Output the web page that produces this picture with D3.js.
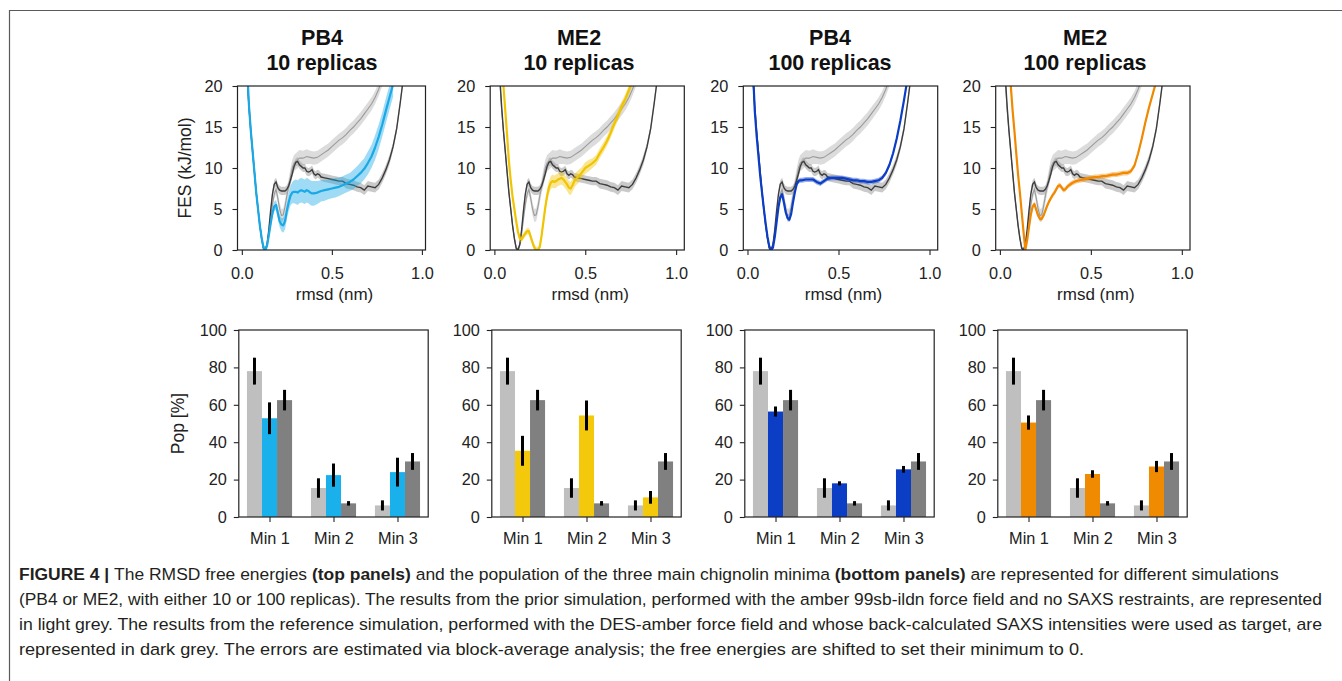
<!DOCTYPE html>
<html>
<head>
<meta charset="utf-8">
<script src="https://cdn.jsdelivr.net/npm/d3@7"></script>
<style>
  body { margin: 0; background: #fff; }
  svg { display: block; }
  text { font-family: "Liberation Sans", Arial, Helvetica, sans-serif; }
</style>
</head>
<body>
<svg id="fig" width="1342" height="681"></svg>
<script>
// ---------- panel titles ----------
const simNames = ["PB4", "ME2", "PB4", "ME2"];
const replicaLabels = ["10 replicas", "10 replicas", "100 replicas", "100 replicas"];

// ---------- free-energy profiles: rmsd (nm), FES (kJ/mol), half-width of error band ----------
// prior simulation (amber 99sb-ildn, no SAXS)
const priorX = [0.02,0.03,0.04,0.05,0.06,0.07,0.08,0.09,0.10,0.11,0.12,0.13,0.14,0.15,0.16,0.17,0.18,0.19,0.20,0.21,0.22,0.23,0.24,0.25,0.26,0.27,0.28,0.29,0.30,
  0.32,0.34,0.36,0.38,0.40,0.42,0.44,0.46,0.48,0.50,0.52,0.54,0.56,0.58,0.60,0.62,0.64,0.66,0.68,0.70,0.72,0.74,0.76,0.78,0.80];
const priorFes = [26,20.5,17,14.5,12,9.5,7,5,3,1.5,0.3,0,0.6,2,3.8,5.5,6.8,7.4,6.3,5.0,4.2,4.3,5.3,6.6,7.8,8.9,10.0,10.6,10.8,
  11.2,11.2,11.4,11.3,11.2,11.3,11.6,11.9,12.2,12.6,13.0,13.4,13.7,14.1,14.6,15.0,15.5,16.0,16.6,17.2,17.8,18.6,19.6,20.8,22];
const priorErr = [0.3,0.3,0.3,0.3,0.3,0.3,0.3,0.3,0.3,0.3,0.2,0.2,0.3,0.4,0.5,0.6,0.6,0.6,0.7,0.8,0.8,0.8,0.8,0.9,0.9,1.0,1.0,1.0,1.0,
  1.0,0.9,0.9,0.8,0.8,0.8,0.8,0.8,0.8,0.8,0.8,0.8,0.8,0.8,0.8,0.8,0.8,0.8,0.8,0.8,0.8,0.8,0.8,0.8,0.8];

// reference simulation (DES-amber)
const refX = [0.02,0.03,0.04,0.05,0.06,0.07,0.08,0.09,0.10,0.11,0.12,0.13,0.14,0.15,0.16,0.17,0.18,0.19,0.20,0.21,0.22,0.23,0.24,0.25,0.26,0.27,0.28,0.29,0.30,
  0.31,0.32,0.33,0.34,0.35,0.36,0.37,0.38,0.39,0.40,0.41,0.42,0.43,0.44,
  0.46,0.48,0.50,0.52,0.54,0.56,0.58,0.60,0.62,0.64,0.66,0.68,0.70,0.72,0.74,0.76,0.78,0.80,0.82,0.84,0.86,0.88,0.90];
const refFes = [27,21,17.5,14.5,12,9.5,7,5,3,1.4,0.2,0,0.7,2.5,4.8,6.8,8.0,8.3,7.6,7.3,7.2,7.2,7.2,7.4,7.8,8.5,9.3,10.2,10.7,
  10.8,10.4,10.2,10.0,10.0,9.6,9.5,9.6,9.8,9.3,9.1,9.3,9.2,8.9,
  8.8,8.7,8.6,8.5,8.4,8.4,8.1,8.0,7.9,7.7,7.6,7.3,7.8,7.7,7.6,8.0,8.8,9.8,11.0,12.6,14.8,18.0,21.5];
const refErr = [0.3,0.3,0.3,0.3,0.3,0.3,0.3,0.3,0.3,0.3,0.3,0.2,0.3,0.4,0.4,0.5,0.5,0.5,0.5,0.5,0.5,0.5,0.5,0.5,0.5,0.5,0.5,0.5,0.5,
  0.5,0.5,0.5,0.5,0.5,0.5,0.5,0.5,0.5,0.5,0.5,0.5,0.5,0.5,
  0.5,0.5,0.5,0.5,0.5,0.5,0.6,0.6,0.6,0.6,0.6,0.6,0.6,0.6,0.6,0.6,0.6,0.6,0.6,0.5,0.5,0.5,0.5];

// PB4, 10 replicas
const pb4r10X = [0.03,0.04,0.05,0.06,0.07,0.08,0.09,0.10,0.11,0.12,0.13,0.14,0.15,0.16,0.17,0.18,0.19,0.20,0.21,0.22,0.23,0.24,0.25,0.26,0.27,0.28,0.29,0.30,
  0.31,0.32,0.33,0.34,0.35,0.36,0.37,0.38,0.39,0.40,
  0.42,0.44,0.46,0.48,0.50,0.52,0.54,0.56,0.58,0.60,0.62,0.64,0.66,0.68,0.70,0.72,0.74,0.76,0.78,0.80,0.82,0.84];
const pb4r10Fes = [22,17.5,14.5,12,9.5,7,5,3,1.5,0.3,0,0.5,1.8,3.2,4.5,5.3,5.5,4.5,3.5,3.1,3.0,3.5,4.8,5.8,6.6,7.0,7.1,7.1,
  7.0,7.2,7.3,7.2,7.1,7.3,7.2,7.0,6.9,6.9,
  7.0,7.2,7.3,7.4,7.5,7.6,7.7,7.9,8.1,8.3,8.6,9.0,9.4,9.9,10.6,11.4,12.5,13.8,15.3,17.0,18.6,20.2];
const pb4r10Err = [0.4,0.4,0.4,0.4,0.4,0.4,0.4,0.4,0.4,0.4,0.4,0.5,0.5,0.5,0.6,0.6,0.6,0.7,0.7,0.8,0.9,1.0,1.0,1.1,1.2,1.3,1.4,1.5,
  1.5,1.5,1.5,1.5,1.5,1.5,1.5,1.5,1.5,1.5,
  1.4,1.3,1.3,1.2,1.2,1.2,1.1,1.1,1.1,1.1,1.2,1.2,1.3,1.3,1.4,1.4,1.5,1.5,1.5,1.5,1.5,1.5];

// ME2, 10 replicas
const me2r10X = [0.04,0.05,0.06,0.07,0.08,0.09,0.10,0.11,0.12,0.13,0.14,0.15,0.16,0.17,0.18,0.19,0.20,0.21,0.22,0.23,0.24,0.25,0.26,0.27,0.28,0.29,0.30,
  0.31,0.32,0.33,0.34,0.35,0.36,0.37,0.38,0.39,0.40,0.41,0.42,0.43,0.44,0.45,0.46,
  0.48,0.50,0.52,0.54,0.56,0.58,0.60,0.62,0.64,0.66,0.68,0.70,0.72,0.74,0.76];
const me2r10Fes = [24,20,17,14,10.8,8.5,6.5,5.0,3.5,2.2,1.4,1.3,1.7,2.0,2.3,2.3,1.6,0.9,0.3,0.0,0.0,0.4,1.8,3.5,5.2,6.6,7.6,
  8.2,8.4,8.3,8.4,8.6,8.7,8.8,8.6,8.3,8.0,7.6,7.5,7.9,8.4,8.7,8.9,
  9.4,10.0,10.3,10.6,11.0,11.8,12.5,13.3,14.3,15.4,16.4,17.5,18.4,19.5,20.6];
const me2r10Err = [0.4,0.4,0.4,0.4,0.4,0.4,0.4,0.4,0.4,0.4,0.4,0.4,0.4,0.4,0.4,0.4,0.4,0.4,0.4,0.4,0.4,0.4,0.5,0.6,0.7,0.8,0.8,
  0.8,0.8,0.8,0.8,0.8,0.8,0.8,0.8,0.8,0.8,0.8,0.8,0.8,0.8,0.8,0.8,
  0.7,0.7,0.7,0.6,0.6,0.6,0.6,0.6,0.6,0.6,0.6,0.6,0.6,0.6,0.6];

// PB4, 100 replicas
const pb4r100X = [0.03,0.04,0.05,0.06,0.07,0.08,0.09,0.10,0.11,0.12,0.13,0.14,0.15,0.16,0.17,0.18,0.19,0.20,0.21,0.22,0.23,0.24,0.25,0.26,0.27,0.28,0.29,0.30,
  0.32,0.34,0.36,0.38,0.40,0.42,0.44,0.46,0.48,0.50,0.52,0.54,0.56,0.58,0.60,0.62,0.64,0.66,0.68,0.70,0.72,0.74,0.76,0.78,0.80,0.82,0.84,0.86,0.88];
const pb4r100Fes = [22,17,14,11.5,9,7,5,3.2,1.6,0.4,0,0.3,1.6,3.4,5.2,6.4,6.8,5.8,4.6,3.9,3.7,4.4,5.8,7.0,8.0,8.4,8.5,8.5,
  8.6,8.6,8.6,8.3,8.1,8.4,8.7,8.8,8.8,8.8,8.8,8.7,8.6,8.5,8.5,8.4,8.4,8.3,8.3,8.4,8.5,8.8,9.4,10.4,11.8,13.6,15.8,18.3,21];
const pb4r100Err = [0.3,0.3,0.3,0.3,0.3,0.3,0.3,0.3,0.3,0.3,0.3,0.3,0.3,0.3,0.3,0.3,0.3,0.3,0.3,0.3,0.3,0.3,0.3,0.3,0.3,0.3,0.3,0.3,
  0.3,0.3,0.3,0.3,0.3,0.3,0.3,0.3,0.3,0.3,0.3,0.3,0.3,0.3,0.3,0.3,0.3,0.3,0.3,0.3,0.3,0.3,0.3,0.3,0.3,0.3,0.3,0.3,0.3];

// ME2, 100 replicas
const me2r100X = [0.05,0.06,0.07,0.08,0.09,0.10,0.11,0.12,0.13,0.14,0.15,0.16,0.17,0.18,0.19,0.20,0.21,0.22,0.23,0.24,0.25,0.26,0.27,0.28,0.29,0.30,
  0.31,0.32,0.33,0.34,0.35,0.36,0.37,0.38,
  0.40,0.42,0.44,0.46,0.48,0.50,0.52,0.54,0.56,0.58,0.60,0.62,0.64,0.66,0.68,0.70,0.72,0.74,0.76,0.78,0.80,0.82,0.84,0.86];
const me2r100Fes = [23,20,17,14.5,11.8,9.2,7.0,4.6,2.2,0.0,1.2,2.8,4.3,5.3,5.6,4.9,4.2,3.8,3.8,4.2,4.8,5.4,5.9,6.3,6.7,7.0,
  7.4,7.8,7.9,7.6,7.3,7.4,7.7,7.9,
  8.2,8.4,8.5,8.6,8.7,8.8,8.9,8.9,9.0,9.0,9.1,9.2,9.2,9.3,9.4,9.4,9.6,10.3,11.8,13.6,15.6,17.4,19.0,20.6];
const me2r100Err = [0.3,0.3,0.3,0.3,0.3,0.3,0.3,0.3,0.3,0.3,0.3,0.3,0.3,0.3,0.3,0.3,0.3,0.3,0.3,0.3,0.3,0.3,0.3,0.3,0.3,0.3,
  0.3,0.3,0.3,0.3,0.3,0.3,0.3,0.3,
  0.3,0.3,0.3,0.3,0.3,0.3,0.3,0.3,0.3,0.3,0.3,0.3,0.3,0.3,0.3,0.3,0.3,0.3,0.3,0.3,0.3,0.3,0.3,0.3];

// ---------- populations of the three minima (%) and their errors ----------
const minima = ["Min 1", "Min 2", "Min 3"];
const priorPop = [78, 15.5, 6.2];
const priorPopErr = [7.2, 5.2, 2.7];
const refPop = [62.5, 7.3, 29.7];
const refPopErr = [5.5, 1.2, 4.5];
const pb4r10Pop = [52.8, 22.4, 24];
const pb4r10PopErr = [8.5, 6.2, 7.7];
const me2r10Pop = [35.4, 54.3, 10.5];
const me2r10PopErr = [8, 8, 3.4];
const pb4r100Pop = [56.4, 18, 25.5];
const pb4r100PopErr = [2.7, 1.1, 1.8];
const me2r100Pop = [50.5, 23, 27];
const me2r100PopErr = [3.8, 2, 3];

// ---------- tick values ----------
const rmsdTicks = [0, 0.5, 1.0];
const fesTicks = [0, 5, 10, 15, 20];
const popTicks = [0, 20, 40, 60, 80, 100];

// ---------- layout & styles ----------
const W = 1342, H = 681;
const priorColor = { band: "#d6d6d6", line: "#9b9b9b", bar: "#bfbfbf" };
const refColor = { band: "#a6a6a6", line: "#3d3d3d", bar: "#808080" };
const simColors = ["#1aa9e6", "#f0c400", "#0b3dc6", "#f08800"];
const barColors = ["#19b0ec", "#f4c90c", "#0b3ec5", "#f08a00"];

const profiles = [
  { x: pb4r10X, f: pb4r10Fes, e: pb4r10Err },
  { x: me2r10X, f: me2r10Fes, e: me2r10Err },
  { x: pb4r100X, f: pb4r100Fes, e: pb4r100Err },
  { x: me2r100X, f: me2r100Fes, e: me2r100Err }
];
const pops = [
  { v: pb4r10Pop, e: pb4r10PopErr },
  { v: me2r10Pop, e: me2r10PopErr },
  { v: pb4r100Pop, e: pb4r100PopErr },
  { v: me2r100Pop, e: me2r100PopErr }
];

const zip = (xs, fs, es) => xs.map((x, i) => ({ x, f: fs[i], e: es[i] }));
const prior = zip(priorX, priorFes, priorErr);
const ref = zip(refX, refFes, refErr);

const topY0 = 86, topY1 = 250;
const topEdges = [[237.5, 425.5], [490.2, 684.3], [743.3, 937.7], [995.7, 1190]];
const topDomains = [[-0.024, 1.02], [-0.023, 1.045], [-0.023, 1.045], [-0.023, 1.045]];
const titleCenters = [322, 579, 830, 1085];

const botY0 = 330, botY1 = 517;
const botLeft0 = 238.8, colStep = 253, botWidth = 189.4;
const barW = 0.235;

const svg = d3.select("#fig");
svg.append("rect").attr("width", W).attr("height", H).attr("fill", "#fff");

// outer figure frame (top and left edges)
svg.append("path")
  .attr("d", `M9.5,${H} V10.5 H${W}`)
  .attr("fill", "none").attr("stroke", "#5a5a5a").attr("stroke-width", 1.2);

const defs = svg.append("defs");

function styleAxis(g, size) {
  g.select(".domain").remove();
  g.selectAll(".tick line").attr("stroke", "#222").attr("stroke-width", 1.1);
  g.selectAll(".tick text")
    .attr("fill", "#222")
    .style("font-size", size + "px")
    .style("font-family", '"Liberation Sans", Arial, sans-serif');
}

// ---------- top row: free-energy profiles ----------
profiles.forEach((p, i) => {
  const [xl, xr] = topEdges[i];
  const x = d3.scaleLinear().domain(topDomains[i]).range([xl, xr]);
  const y = d3.scaleLinear().domain([0, 20]).range([topY1, topY0]);
  const g = svg.append("g");

  defs.append("clipPath").attr("id", "clipTop" + i)
    .append("rect").attr("x", xl).attr("y", topY0).attr("width", xr - xl).attr("height", topY1 - topY0);

  const plot = g.append("g").attr("clip-path", `url(#clipTop${i})`);
  const band = d3.area().x(d => x(d.x)).y0(d => y(d.f - d.e)).y1(d => y(d.f + d.e));
  const line = d3.line().x(d => x(d.x)).y(d => y(d.f));

  plot.append("path").datum(prior).attr("d", band).attr("fill", priorColor.band).attr("opacity", 0.85);
  plot.append("path").datum(prior).attr("d", line).attr("fill", "none").attr("stroke", priorColor.line).attr("stroke-width", 1.1);
  plot.append("path").datum(ref).attr("d", band).attr("fill", refColor.band).attr("opacity", 0.6);
  plot.append("path").datum(ref).attr("d", line).attr("fill", "none").attr("stroke", refColor.line).attr("stroke-width", 1.4);

  const sim = zip(p.x, p.f, p.e);
  plot.append("path").datum(sim).attr("d", band).attr("fill", simColors[i]).attr("opacity", 0.42);
  plot.append("path").datum(sim).attr("d", line).attr("fill", "none").attr("stroke", simColors[i]).attr("stroke-width", 2.2).attr("stroke-linejoin", "round");

  g.append("rect").attr("x", xl).attr("y", topY0).attr("width", xr - xl).attr("height", topY1 - topY0)
    .attr("fill", "none").attr("stroke", "#222").attr("stroke-width", 1.2);

  const gx = g.append("g").attr("transform", `translate(0,${topY1})`)
    .call(d3.axisBottom(x).tickValues(rmsdTicks).tickFormat(d3.format(".1f")).tickSize(5).tickPadding(12));
  styleAxis(gx, 16.3);
  const gy = g.append("g").attr("transform", `translate(${xl},0)`)
    .call(d3.axisLeft(y).tickValues(fesTicks).tickSize(5).tickPadding(10));
  styleAxis(gy, 16.3);

  g.append("text").attr("x", (xl + xr) / 2 + 3).attr("y", 300).attr("text-anchor", "middle")
    .attr("fill", "#222").style("font-size", "17px").text("rmsd (nm)");

  g.append("text").attr("x", titleCenters[i]).attr("y", 45).attr("text-anchor", "middle")
    .attr("fill", "#111").style("font-size", "21.5px").style("font-weight", "bold").text(simNames[i]);
  g.append("text").attr("x", titleCenters[i]).attr("y", 69.5).attr("text-anchor", "middle")
    .attr("fill", "#111").style("font-size", "21.5px").style("font-weight", "bold").text(replicaLabels[i]);

  if (i === 0) {
    g.append("text").attr("transform", `translate(191,${(topY0 + topY1) / 2}) rotate(-90)`)
      .attr("text-anchor", "middle").attr("fill", "#222").style("font-size", "17.5px").text("FES (kJ/mol)");
  }
});

// ---------- bottom row: populations ----------
pops.forEach((p, i) => {
  const xl = botLeft0 + colStep * i, xr = xl + botWidth;
  const x = d3.scaleLinear().domain([-0.48, 2.48]).range([xl, xr]);
  const y = d3.scaleLinear().domain([0, 100]).range([botY1, botY0]);
  const g = svg.append("g");

  const series = [
    { v: priorPop, e: priorPopErr, c: priorColor.bar, off: -1 },
    { v: p.v, e: p.e, c: barColors[i], off: 0 },
    { v: refPop, e: refPopErr, c: refColor.bar, off: 1 }
  ];
  const bw = x(barW) - x(0);
  series.forEach(s => {
    s.v.forEach((v, k) => {
      const cx = x(k + s.off * barW);
      g.append("rect").attr("x", cx - bw / 2).attr("y", y(v)).attr("width", bw).attr("height", y(0) - y(v))
        .attr("fill", s.c);
    });
  });
  series.forEach(s => {
    s.v.forEach((v, k) => {
      const cx = x(k + s.off * barW);
      g.append("line").attr("x1", cx).attr("x2", cx).attr("y1", y(v - s.e[k])).attr("y2", y(v + s.e[k]))
        .attr("stroke", "#000").attr("stroke-width", 3);
    });
  });

  g.append("rect").attr("x", xl).attr("y", botY0).attr("width", xr - xl).attr("height", botY1 - botY0)
    .attr("fill", "none").attr("stroke", "#222").attr("stroke-width", 1.2);

  const gx = g.append("g").attr("transform", `translate(0,${botY1})`)
    .call(d3.axisBottom(x).tickValues([0, 1, 2]).tickFormat(k => minima[k]).tickSize(5).tickPadding(10));
  styleAxis(gx, 16.3);
  const gy = g.append("g").attr("transform", `translate(${xl},0)`)
    .call(d3.axisLeft(y).tickValues(popTicks).tickSize(5).tickPadding(7));
  styleAxis(gy, 16.3);

  if (i === 0) {
    g.append("text").attr("transform", `translate(184,${(botY0 + botY1) / 2}) rotate(-90)`)
      .attr("text-anchor", "middle").attr("fill", "#222").style("font-size", "17.5px").text("Pop [%]");
  }
});

// ---------- caption ----------
const captionLines = [
  [["FIGURE 4 | ", true], ["The RMSD free energies ", false], ["(top panels)", true],
   [" and the population of the three main chignolin minima ", false], ["(bottom panels)", true],
   [" are represented for different simulations", false]],
  [["(PB4 or ME2, with either 10 or 100 replicas). The results from the prior simulation, performed with the amber 99sb-ildn force field and no SAXS restraints, are represented", false]],
  [["in light grey. The results from the reference simulation, performed with the DES-amber force field and whose back-calculated SAXS intensities were used as target, are", false]],
  [["represented in dark grey. The errors are estimated via block-average analysis; the free energies are shifted to set their minimum to 0.", false]]
];
const captionBase = [580, 605, 630, 655];
const captionLeft = 19, captionRight = [1280, 1323, 1323, 1085];

captionLines.forEach((segs, li) => {
  const t = svg.append("text").attr("x", 0).attr("y", 0)
    .attr("fill", "#231f20").style("font-size", "17px");
  segs.forEach(([s, b]) => {
    t.append("tspan").style("font-weight", b ? "bold" : "normal").text(s);
  });
  const w = t.node().getComputedTextLength();
  const sx = (captionRight[li] - captionLeft) / w;
  t.attr("transform", `translate(${captionLeft},${captionBase[li]}) scale(${sx},1)`);
});
</script>
</body>
</html>
